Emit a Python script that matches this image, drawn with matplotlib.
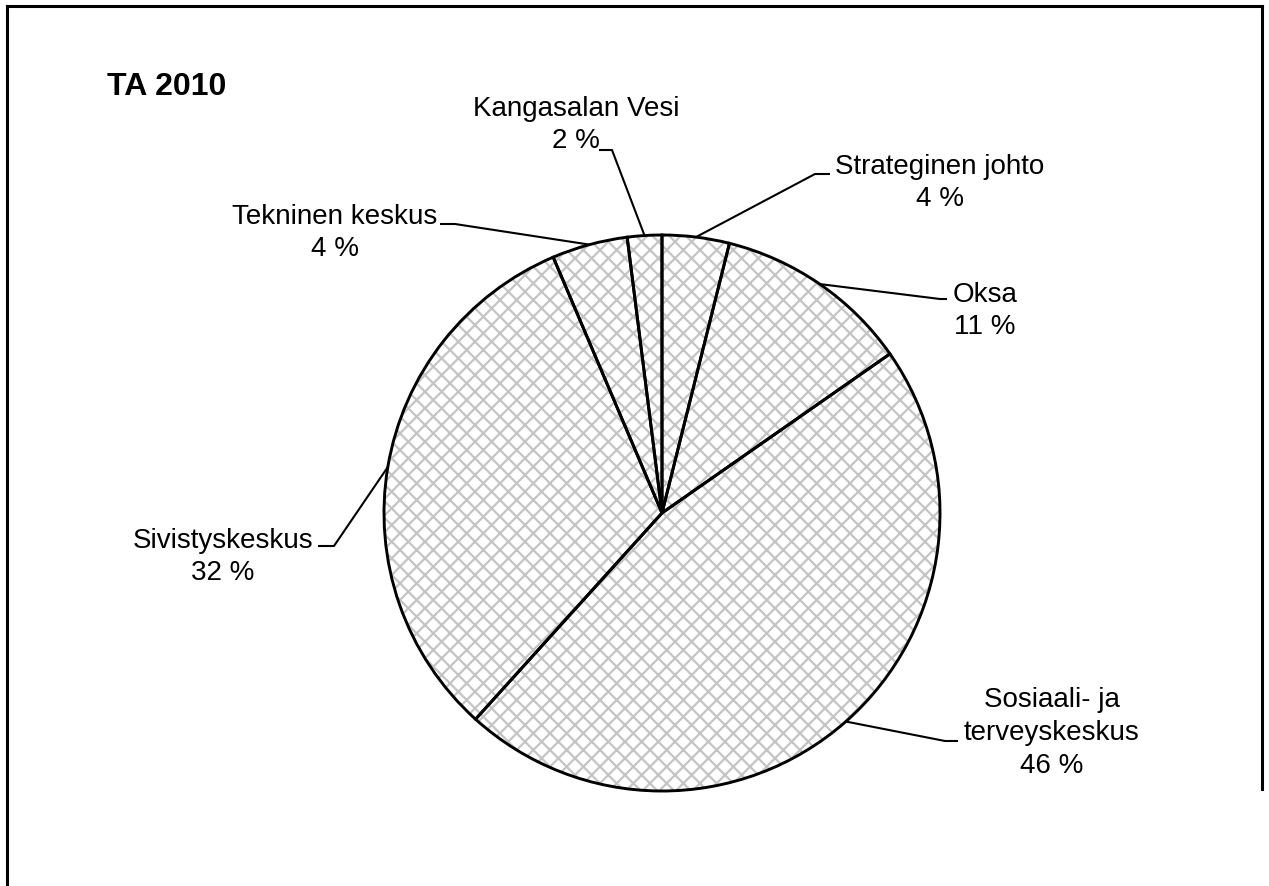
import numpy as np
import matplotlib
matplotlib.use("Agg")
import matplotlib.pyplot as plt

plt.rcParams['font.family'] = ['Liberation Sans', 'DejaVu Sans']
plt.rcParams['hatch.linewidth'] = 1.6

title = "TA 2010"
categories = ["Strateginen johto", "Oksa", "Sosiaali- ja\nterveyskeskus",
              "Sivistyskeskus", "Tekninen keskus", "Kangasalan Vesi"]
values = [3.9, 11.4, 46.4, 31.9, 4.4, 2.0]

W, H = 1269, 887
fig = plt.figure(figsize=(W / 100, H / 100), dpi=100)
ax = fig.add_axes([0, 0, 1, 1])

def py(y):
    return H - y

cx, cy, r = 662, py(514), 278

# hatch fill
wedges, _ = ax.pie(values, startangle=90, counterclock=False, center=(cx, cy), radius=r,
                   wedgeprops=dict(facecolor='white', edgecolor='#c4c4c4', hatch='xx', linewidth=0))
# outlines
ax.pie(values, startangle=90, counterclock=False, center=(cx, cy), radius=r,
       wedgeprops=dict(fill=False, edgecolor='black', linewidth=2.1))

# label layout: (text center x, text center y, elbow x, elbow y, end x, end y)
layout = [
    (940, 183, 815, 175, 830, 175),
    (985, 311, 940, 300, 947, 300),
    (1052, 733, 945, 742, 958, 742),
    (223, 557, 334, 547, 318, 547),
    (335, 233, 455, 225, 440, 225),
    (576, 125, 612, 151, 599, 151),
]

for w, name, v, lay in zip(wedges, categories, values, layout):
    tx, ty, ex, ey, endx, endy = lay
    mid = np.deg2rad((w.theta1 + w.theta2) / 2)
    ax0 = cx + r * np.cos(mid)
    ay0 = cy + r * np.sin(mid)
    ax.plot([ax0, ex, endx], [ay0, py(ey), py(endy)], color='black', lw=1.5,
            solid_capstyle='butt', zorder=5)
    ax.text(tx, py(ty), f"{name}\n{round(v)} %", ha='center', va='center',
            fontsize=20, linespacing=1.33, zorder=6)

ax.text(107, py(87), title, ha='left', va='center', fontsize=23, fontweight='bold')

# frame
ax.plot([7, 7], [py(887), py(7)], color='black', lw=2.2, solid_capstyle='projecting')
ax.plot([7, 1262], [py(7), py(7)], color='black', lw=2.2, solid_capstyle='projecting')
ax.plot([1262, 1262], [py(7), py(790)], color='black', lw=2.2, solid_capstyle='projecting')

ax.set_xlim(0, W)
ax.set_ylim(0, H)
ax.set_aspect('auto')
ax.axis('off')

fig.savefig("out.png", dpi=100)
